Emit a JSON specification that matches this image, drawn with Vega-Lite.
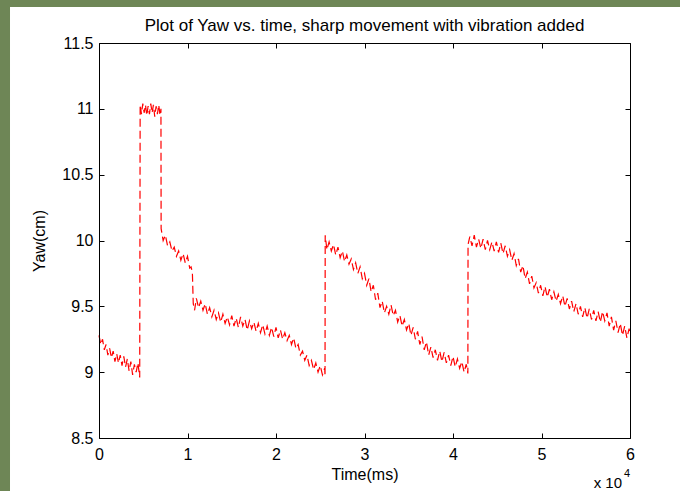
{
  "$schema": "https://vega.github.io/schema/vega-lite/v6.json",
  "width": 531,
  "height": 395,
  "autosize": {"type": "none"},
  "padding": {"left": 99, "top": 43, "right": 50, "bottom": 53},
  "background": "#6e8656",
  "title": {
    "text": "Plot of Yaw vs. time, sharp movement with vibration added",
    "font": "Liberation Sans",
    "fontSize": 17,
    "fontWeight": "normal",
    "color": "black",
    "anchor": "middle",
    "frame": "group",
    "baseline": "alphabetic",
    "offset": 0,
    "dy": 41,
    "zindex": 1
  },
  "config": {
    "view": {"stroke": null},
    "axis": {
      "zindex": 1,
      "grid": false,
      "domainColor": "black",
      "domainWidth": 1,
      "tickColor": "black",
      "tickWidth": 1,
      "tickSize": -5,
      "labelColor": "black",
      "labelFont": "Liberation Sans",
      "labelFontSize": 16,
      "titleFont": "Liberation Sans",
      "titleFontSize": 16,
      "titleFontWeight": "normal",
      "titleColor": "black"
    }
  },
  "resolve": {"axis": {"x": "independent", "y": "independent"}},
  "layer": [
    {
      "data": {"values": [{}]},
      "mark": {"type": "rect", "color": "white"},
      "encoding": {
        "x": {"datum": -10056, "type": "quantitative", "scale": {"domain": [0, 60000], "nice": false, "zero": false}, "axis": null},
        "x2": {"datum": 80000},
        "y": {"datum": 11.773, "type": "quantitative", "scale": {"domain": [8.5, 11.5], "nice": false, "zero": false}, "axis": null},
        "y2": {"datum": 7}
      }
    },
    {
      "data": {"values": [
        {"t":0,"y":9.28},{"t":200,"y":9.21},{"t":400,"y":9.25},{"t":600,"y":9.17},{"t":800,"y":9.21},{"t":1000,"y":9.13},{"t":1200,"y":9.18},{"t":1400,"y":9.11},{"t":1600,"y":9.16},{"t":1800,"y":9.08},{"t":2000,"y":9.14},{"t":2200,"y":9.07},{"t":2400,"y":9.13},{"t":2600,"y":9.05},{"t":2800,"y":9.12},{"t":3000,"y":9.04},{"t":3200,"y":9.10},{"t":3400,"y":9.01},{"t":3600,"y":9.08},{"t":3800,"y":8.98},{"t":4000,"y":9.06},{"t":4200,"y":9.00},{"t":4400,"y":9.07},{"t":4600,"y":8.96},
        {"t":4650,"y":11.03},{"t":4800,"y":10.96},{"t":4950,"y":11.04},{"t":5100,"y":10.97},{"t":5250,"y":11.03},{"t":5400,"y":10.95},{"t":5550,"y":11.02},{"t":5700,"y":10.96},{"t":5850,"y":11.04},{"t":6000,"y":10.97},{"t":6150,"y":11.03},{"t":6300,"y":10.94},{"t":6450,"y":11.02},{"t":6600,"y":10.96},{"t":6750,"y":11.03},{"t":6900,"y":10.95},{"t":7000,"y":11.00},
        {"t":7020,"y":10.09},{"t":7250,"y":10.00},{"t":7500,"y":10.04},{"t":7750,"y":9.96},{"t":8000,"y":9.99},{"t":8250,"y":9.92},{"t":8500,"y":9.95},{"t":8750,"y":9.88},{"t":9000,"y":9.92},{"t":9250,"y":9.85},{"t":9500,"y":9.90},{"t":9750,"y":9.83},{"t":10000,"y":9.88},{"t":10250,"y":9.79},{"t":10400,"y":9.80},{"t":10550,"y":9.76},{"t":10650,"y":9.52},{"t":10800,"y":9.47},{"t":11000,"y":9.56},{"t":11250,"y":9.49},{"t":11500,"y":9.54},{"t":11750,"y":9.47},{"t":12000,"y":9.52},{"t":12250,"y":9.44},{"t":12500,"y":9.49},{"t":12750,"y":9.42},{"t":13000,"y":9.47},{"t":13250,"y":9.40},{"t":13500,"y":9.45},{"t":13750,"y":9.38},{"t":14000,"y":9.44},{"t":14250,"y":9.37},{"t":14500,"y":9.42},{"t":14750,"y":9.36},{"t":15000,"y":9.43},{"t":15250,"y":9.35},{"t":15500,"y":9.41},{"t":15750,"y":9.34},{"t":16000,"y":9.42},{"t":16250,"y":9.35},{"t":16500,"y":9.40},{"t":16750,"y":9.32},{"t":17000,"y":9.39},{"t":17250,"y":9.33},{"t":17500,"y":9.38},{"t":17750,"y":9.31},{"t":18000,"y":9.37},{"t":18250,"y":9.30},{"t":18500,"y":9.36},{"t":18750,"y":9.29},{"t":19000,"y":9.35},{"t":19250,"y":9.28},{"t":19500,"y":9.34},{"t":19750,"y":9.27},{"t":20000,"y":9.34},{"t":20250,"y":9.26},{"t":20500,"y":9.32},{"t":20750,"y":9.25},{"t":21000,"y":9.30},{"t":21250,"y":9.24},{"t":21500,"y":9.28},{"t":21750,"y":9.21},{"t":22000,"y":9.26},{"t":22250,"y":9.18},{"t":22500,"y":9.21},{"t":22750,"y":9.13},{"t":23000,"y":9.16},{"t":23250,"y":9.09},{"t":23500,"y":9.13},{"t":23750,"y":9.05},{"t":24000,"y":9.09},{"t":24250,"y":9.02},{"t":24500,"y":9.07},{"t":24750,"y":9.00},{"t":25000,"y":9.05},{"t":25250,"y":8.98},{"t":25500,"y":9.03},{"t":25540,"y":8.97},
        {"t":25560,"y":10.04},{"t":25750,"y":9.93},{"t":26000,"y":9.99},{"t":26250,"y":9.92},{"t":26500,"y":9.97},{"t":26750,"y":9.89},{"t":27000,"y":9.95},{"t":27250,"y":9.87},{"t":27500,"y":9.92},{"t":27750,"y":9.84},{"t":28000,"y":9.89},{"t":28250,"y":9.82},{"t":28500,"y":9.86},{"t":28750,"y":9.78},{"t":29000,"y":9.83},{"t":29250,"y":9.75},{"t":29500,"y":9.80},{"t":29750,"y":9.71},{"t":30000,"y":9.75},{"t":30250,"y":9.66},{"t":30500,"y":9.71},{"t":30750,"y":9.61},{"t":31000,"y":9.66},{"t":31250,"y":9.55},{"t":31500,"y":9.60},{"t":31750,"y":9.49},{"t":32000,"y":9.54},{"t":32250,"y":9.45},{"t":32500,"y":9.50},{"t":32750,"y":9.44},{"t":33000,"y":9.51},{"t":33250,"y":9.43},{"t":33500,"y":9.47},{"t":33750,"y":9.38},{"t":34000,"y":9.43},{"t":34250,"y":9.35},{"t":34500,"y":9.40},{"t":34750,"y":9.32},{"t":35000,"y":9.37},{"t":35250,"y":9.28},{"t":35500,"y":9.34},{"t":35750,"y":9.25},{"t":36000,"y":9.31},{"t":36250,"y":9.21},{"t":36500,"y":9.27},{"t":36750,"y":9.17},{"t":37000,"y":9.23},{"t":37250,"y":9.13},{"t":37500,"y":9.19},{"t":37750,"y":9.11},{"t":38000,"y":9.17},{"t":38250,"y":9.09},{"t":38500,"y":9.16},{"t":38750,"y":9.08},{"t":39000,"y":9.15},{"t":39250,"y":9.07},{"t":39500,"y":9.13},{"t":39750,"y":9.05},{"t":40000,"y":9.12},{"t":40250,"y":9.04},{"t":40500,"y":9.10},{"t":40750,"y":9.03},{"t":41000,"y":9.08},{"t":41250,"y":9.00},{"t":41500,"y":9.06},{"t":41680,"y":8.99},
        {"t":41700,"y":9.97},{"t":41900,"y":10.03},{"t":42150,"y":9.96},{"t":42400,"y":10.04},{"t":42650,"y":9.95},{"t":42900,"y":10.01},{"t":43150,"y":9.94},{"t":43400,"y":10.01},{"t":43650,"y":9.93},{"t":43900,"y":10.00},{"t":44150,"y":9.93},{"t":44400,"y":9.99},{"t":44650,"y":9.92},{"t":44900,"y":9.99},{"t":45150,"y":9.91},{"t":45400,"y":9.98},{"t":45650,"y":9.90},{"t":45900,"y":9.96},{"t":46150,"y":9.88},{"t":46400,"y":9.93},{"t":46650,"y":9.85},{"t":46900,"y":9.90},{"t":47150,"y":9.81},{"t":47400,"y":9.86},{"t":47650,"y":9.76},{"t":47900,"y":9.81},{"t":48150,"y":9.71},{"t":48400,"y":9.76},{"t":48650,"y":9.67},{"t":48900,"y":9.73},{"t":49150,"y":9.64},{"t":49400,"y":9.68},{"t":49650,"y":9.60},{"t":49900,"y":9.66},{"t":50150,"y":9.58},{"t":50400,"y":9.65},{"t":50650,"y":9.57},{"t":50900,"y":9.63},{"t":51150,"y":9.55},{"t":51400,"y":9.61},{"t":51650,"y":9.54},{"t":51900,"y":9.59},{"t":52150,"y":9.52},{"t":52400,"y":9.58},{"t":52650,"y":9.50},{"t":52900,"y":9.56},{"t":53150,"y":9.48},{"t":53400,"y":9.54},{"t":53650,"y":9.46},{"t":53900,"y":9.52},{"t":54150,"y":9.44},{"t":54400,"y":9.50},{"t":54650,"y":9.42},{"t":54900,"y":9.49},{"t":55150,"y":9.41},{"t":55400,"y":9.48},{"t":55650,"y":9.40},{"t":55900,"y":9.47},{"t":56150,"y":9.39},{"t":56400,"y":9.46},{"t":56650,"y":9.38},{"t":56900,"y":9.46},{"t":57150,"y":9.39},{"t":57400,"y":9.45},{"t":57650,"y":9.35},{"t":57900,"y":9.42},{"t":58150,"y":9.32},{"t":58400,"y":9.39},{"t":58650,"y":9.30},{"t":58900,"y":9.37},{"t":59150,"y":9.28},{"t":59400,"y":9.35},{"t":59650,"y":9.26},{"t":59900,"y":9.33},{"t":60000,"y":9.29}
      ]},
      "mark": {"type": "line", "color": "#ff0000", "strokeWidth": 1.2, "strokeDash": [8, 4]},
      "encoding": {
        "x": {
          "field": "t", "type": "quantitative",
          "scale": {"domain": [0, 60000], "nice": false, "zero": false},
          "axis": {"orient": "bottom", "zindex": 1, "values": [0, 10000, 20000, 30000, 40000, 50000, 60000], "labelExpr": "datum.value / 10000", "labelPadding": 13, "title": "Time(ms)", "titlePadding": 4, "labelFlush": false}
        },
        "y": {
          "field": "y", "type": "quantitative",
          "scale": {"domain": [8.5, 11.5], "nice": false, "zero": false},
          "axis": {"orient": "left", "zindex": 1, "values": [8.5, 9, 9.5, 10, 10.5, 11, 11.5], "format": "~g", "labelPadding": 11, "title": "Yaw(cm)", "titlePadding": 14, "labelFlush": false}
        }
      }
    },
    {
      "data": {"values": [{}]},
      "mark": {"type": "text", "text": "x 10", "font": "Liberation Sans", "fontSize": 15, "color": "black", "align": "right", "baseline": "alphabetic", "dx": -8, "dy": 50},
      "encoding": {
        "x": {"datum": 60000, "type": "quantitative", "scale": {"domain": [0, 60000], "nice": false, "zero": false},
          "axis": {"orient": "top", "zindex": 1, "values": [0, 10000, 20000, 30000, 40000, 50000, 60000], "labels": false, "title": null}},
        "y": {"datum": 8.5, "type": "quantitative", "scale": {"domain": [8.5, 11.5], "nice": false, "zero": false},
          "axis": {"orient": "right", "zindex": 1, "values": [8.5, 9, 9.5, 10, 10.5, 11, 11.5], "labels": false, "title": null}}
      }
    },
    {
      "data": {"values": [{}]},
      "mark": {"type": "text", "text": "4", "font": "Liberation Sans", "fontSize": 11, "color": "black", "align": "left", "baseline": "alphabetic", "dx": -6, "dy": 39},
      "encoding": {
        "x": {"datum": 60000, "type": "quantitative", "scale": {"domain": [0, 60000], "nice": false, "zero": false}, "axis": null},
        "y": {"datum": 8.5, "type": "quantitative", "scale": {"domain": [8.5, 11.5], "nice": false, "zero": false}, "axis": null}
      }
    }
  ]
}
